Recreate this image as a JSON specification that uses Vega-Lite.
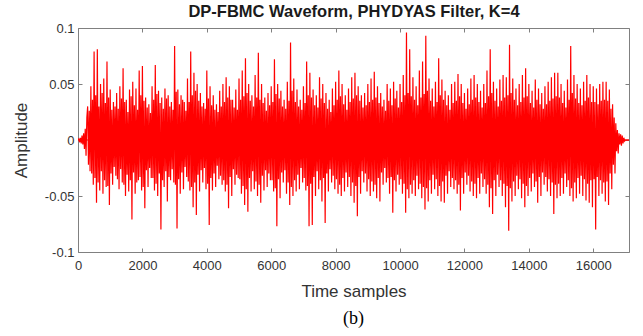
{
"$schema": "https://vega.github.io/schema/vega-lite/v6.json",
"width": 551,
"height": 224,
"autosize": {"type": "none"},
"padding": {"left": 78, "top": 28, "right": 14, "bottom": 84},
"background": "white",
"config": {"view": {"stroke": null}, "font": "Liberation Sans"},
"title": {"text": "(b)", "orient": "bottom", "anchor": "middle", "font": "Liberation Serif", "fontSize": 18, "fontWeight": "normal", "color": "#000000", "offset": 11},
"datasets": {
"wave": [
{"t":0,"a":0},{"t":25,"a":0.001},{"t":50,"a":-0.002},{"t":75,"a":0.002},{"t":100,"a":-0.003},{"t":125,"a":0.004},
{"t":150,"a":-0.004},{"t":175,"a":0.006},{"t":200,"a":-0.008},{"t":225,"a":0.010},{"t":250,"a":-0.014},{"t":275,"a":0.020},
{"t":300,"a":0.030},{"t":325,"a":-0.022},{"t":350,"a":0.026},{"t":375,"a":-0.028},
{"t":400,"a":0.048},{"t":425,"a":-0.030},{"t":450,"a":0.036},{"t":475,"a":-0.040},
{"t":500,"a":0.079},{"t":525,"a":-0.034},{"t":550,"a":0.040},{"t":575,"a":-0.056},
{"t":600,"a":0.081},{"t":625,"a":-0.038},{"t":650,"a":0.030},{"t":675,"a":-0.045},
{"t":700,"a":0.050},{"t":725,"a":-0.028},{"t":750,"a":0.042},{"t":775,"a":-0.048},
{"t":800,"a":0.055},{"t":825,"a":-0.036},{"t":850,"a":0.033},{"t":875,"a":-0.042},
{"t":900,"a":0.070},{"t":925,"a":-0.041},{"t":950,"a":0.038},{"t":975,"a":-0.058},
{"t":1000,"a":0.045},{"t":1025,"a":-0.030},{"t":1050,"a":0.027},{"t":1075,"a":-0.040},
{"t":1100,"a":0.034},{"t":1125,"a":-0.024},{"t":1150,"a":0.030},{"t":1175,"a":-0.032},
{"t":1200,"a":0.042},{"t":1225,"a":-0.035},{"t":1250,"a":0.028},{"t":1275,"a":-0.044},
{"t":1300,"a":0.048},{"t":1325,"a":-0.026},{"t":1350,"a":0.037},{"t":1375,"a":-0.038},
{"t":1400,"a":0.064},{"t":1425,"a":-0.040},{"t":1450,"a":0.034},{"t":1475,"a":-0.050},
{"t":1500,"a":0.036},{"t":1525,"a":-0.031},{"t":1550,"a":0.025},{"t":1575,"a":-0.046},
{"t":1600,"a":0.045},{"t":1625,"a":-0.036},{"t":1650,"a":0.039},{"t":1675,"a":-0.071},
{"t":1700,"a":0.052},{"t":1725,"a":-0.029},{"t":1750,"a":0.031},{"t":1775,"a":-0.048},
{"t":1800,"a":0.046},{"t":1825,"a":-0.038},{"t":1850,"a":0.027},{"t":1875,"a":-0.036},
{"t":1900,"a":0.062},{"t":1925,"a":-0.033},{"t":1950,"a":0.040},{"t":1975,"a":-0.045},
{"t":2000,"a":0.066},{"t":2025,"a":-0.042},{"t":2050,"a":0.035},{"t":2075,"a":-0.061},
{"t":2100,"a":0.038},{"t":2125,"a":-0.027},{"t":2150,"a":0.029},{"t":2175,"a":-0.042},
{"t":2200,"a":0.032},{"t":2225,"a":-0.025},{"t":2250,"a":0.024},{"t":2275,"a":-0.034},
{"t":2300,"a":0.048},{"t":2325,"a":-0.034},{"t":2350,"a":0.036},{"t":2375,"a":-0.045},
{"t":2400,"a":0.067},{"t":2425,"a":-0.039},{"t":2450,"a":0.041},{"t":2475,"a":-0.050},
{"t":2500,"a":0.044},{"t":2525,"a":-0.030},{"t":2550,"a":0.033},{"t":2575,"a":-0.080},
{"t":2600,"a":0.038},{"t":2625,"a":-0.036},{"t":2650,"a":0.028},{"t":2675,"a":-0.042},
{"t":2700,"a":0.046},{"t":2725,"a":-0.028},{"t":2750,"a":0.037},{"t":2775,"a":-0.055},
{"t":2800,"a":0.040},{"t":2825,"a":-0.033},{"t":2850,"a":0.030},{"t":2875,"a":-0.036},
{"t":2900,"a":0.034},{"t":2925,"a":-0.026},{"t":2950,"a":0.027},{"t":2975,"a":-0.038},
{"t":3000,"a":0.084},{"t":3025,"a":-0.040},{"t":3050,"a":0.043},{"t":3075,"a":-0.079},
{"t":3100,"a":0.045},{"t":3125,"a":-0.035},{"t":3150,"a":0.032},{"t":3175,"a":-0.048},
{"t":3200,"a":0.040},{"t":3225,"a":-0.029},{"t":3250,"a":0.036},{"t":3275,"a":-0.044},
{"t":3300,"a":0.034},{"t":3325,"a":-0.024},{"t":3350,"a":0.026},{"t":3375,"a":-0.033},
{"t":3400,"a":0.055},{"t":3425,"a":-0.037},{"t":3450,"a":0.034},{"t":3475,"a":-0.045},
{"t":3500,"a":0.079},{"t":3525,"a":-0.042},{"t":3550,"a":0.040},{"t":3575,"a":-0.060},
{"t":3600,"a":0.060},{"t":3625,"a":-0.038},{"t":3650,"a":0.044},{"t":3675,"a":-0.067},
{"t":3700,"a":0.050},{"t":3725,"a":-0.031},{"t":3750,"a":0.035},{"t":3775,"a":-0.046},
{"t":3800,"a":0.042},{"t":3825,"a":-0.027},{"t":3850,"a":0.030},{"t":3875,"a":-0.038},
{"t":3900,"a":0.033},{"t":3925,"a":-0.025},{"t":3950,"a":0.028},{"t":3975,"a":-0.044},
{"t":4000,"a":0.062},{"t":4025,"a":-0.039},{"t":4050,"a":0.037},{"t":4075,"a":-0.076},
{"t":4100,"a":0.048},{"t":4125,"a":-0.034},{"t":4150,"a":0.031},{"t":4175,"a":-0.045},
{"t":4200,"a":0.040},{"t":4225,"a":-0.030},{"t":4250,"a":0.027},{"t":4275,"a":-0.042},
{"t":4300,"a":0.032},{"t":4325,"a":-0.023},{"t":4350,"a":0.025},{"t":4375,"a":-0.035},
{"t":4400,"a":0.044},{"t":4425,"a":-0.032},{"t":4450,"a":0.030},{"t":4475,"a":-0.040},
{"t":4500,"a":0.050},{"t":4525,"a":-0.036},{"t":4550,"a":0.034},{"t":4575,"a":-0.046},
{"t":4600,"a":0.056},{"t":4625,"a":-0.040},{"t":4650,"a":0.038},{"t":4675,"a":-0.061},
{"t":4700,"a":0.048},{"t":4725,"a":-0.033},{"t":4750,"a":0.036},{"t":4775,"a":-0.050},
{"t":4800,"a":0.036},{"t":4825,"a":-0.026},{"t":4850,"a":0.029},{"t":4875,"a":-0.040},
{"t":4900,"a":0.045},{"t":4925,"a":-0.031},{"t":4950,"a":0.027},{"t":4975,"a":-0.034},
{"t":5000,"a":0.055},{"t":5025,"a":-0.035},{"t":5050,"a":0.036},{"t":5075,"a":-0.048},
{"t":5100,"a":0.062},{"t":5125,"a":-0.041},{"t":5150,"a":0.039},{"t":5175,"a":-0.058},
{"t":5200,"a":0.073},{"t":5225,"a":-0.044},{"t":5250,"a":0.042},{"t":5275,"a":-0.064},
{"t":5300,"a":0.050},{"t":5325,"a":-0.034},{"t":5350,"a":0.035},{"t":5375,"a":-0.046},
{"t":5400,"a":0.040},{"t":5425,"a":-0.028},{"t":5450,"a":0.030},{"t":5475,"a":-0.044},
{"t":5500,"a":0.058},{"t":5525,"a":-0.037},{"t":5550,"a":0.038},{"t":5575,"a":-0.050},
{"t":5600,"a":0.078},{"t":5625,"a":-0.040},{"t":5650,"a":0.036},{"t":5675,"a":-0.056},
{"t":5700,"a":0.050},{"t":5725,"a":-0.032},{"t":5750,"a":0.033},{"t":5775,"a":-0.045},
{"t":5800,"a":0.038},{"t":5825,"a":-0.027},{"t":5850,"a":0.026},{"t":5875,"a":-0.042},
{"t":5900,"a":0.042},{"t":5925,"a":-0.030},{"t":5950,"a":0.031},{"t":5975,"a":-0.036},
{"t":6000,"a":0.048},{"t":6025,"a":-0.036},{"t":6050,"a":0.034},{"t":6075,"a":-0.046},
{"t":6100,"a":0.072},{"t":6125,"a":-0.043},{"t":6150,"a":0.041},{"t":6175,"a":-0.077},
{"t":6200,"a":0.050},{"t":6225,"a":-0.035},{"t":6250,"a":0.037},{"t":6275,"a":-0.052},
{"t":6300,"a":0.044},{"t":6325,"a":-0.029},{"t":6350,"a":0.030},{"t":6375,"a":-0.038},
{"t":6400,"a":0.036},{"t":6425,"a":-0.027},{"t":6450,"a":0.028},{"t":6475,"a":-0.048},
{"t":6500,"a":0.052},{"t":6525,"a":-0.038},{"t":6550,"a":0.035},{"t":6575,"a":-0.058},
{"t":6600,"a":0.087},{"t":6625,"a":-0.042},{"t":6650,"a":0.044},{"t":6675,"a":-0.050},
{"t":6700,"a":0.055},{"t":6725,"a":-0.036},{"t":6750,"a":0.034},{"t":6775,"a":-0.046},
{"t":6800,"a":0.045},{"t":6825,"a":-0.031},{"t":6850,"a":0.030},{"t":6875,"a":-0.044},
{"t":6900,"a":0.036},{"t":6925,"a":-0.025},{"t":6950,"a":0.027},{"t":6975,"a":-0.038},
{"t":7000,"a":0.048},{"t":7025,"a":-0.034},{"t":7050,"a":0.033},{"t":7075,"a":-0.045},
{"t":7100,"a":0.070},{"t":7125,"a":-0.041},{"t":7150,"a":0.040},{"t":7175,"a":-0.077},
{"t":7200,"a":0.060},{"t":7225,"a":-0.039},{"t":7250,"a":0.038},{"t":7275,"a":-0.076},
{"t":7300,"a":0.045},{"t":7325,"a":-0.033},{"t":7350,"a":0.031},{"t":7375,"a":-0.050},
{"t":7400,"a":0.040},{"t":7425,"a":-0.028},{"t":7450,"a":0.029},{"t":7475,"a":-0.044},
{"t":7500,"a":0.056},{"t":7525,"a":-0.036},{"t":7550,"a":0.037},{"t":7575,"a":-0.055},
{"t":7600,"a":0.050},{"t":7625,"a":-0.034},{"t":7650,"a":0.033},{"t":7675,"a":-0.074},
{"t":7700,"a":0.042},{"t":7725,"a":-0.030},{"t":7750,"a":0.028},{"t":7775,"a":-0.046},
{"t":7800,"a":0.036},{"t":7825,"a":-0.026},{"t":7850,"a":0.025},{"t":7875,"a":-0.038},
{"t":7900,"a":0.046},{"t":7925,"a":-0.032},{"t":7950,"a":0.031},{"t":7975,"a":-0.044},
{"t":8000,"a":0.052},{"t":8025,"a":-0.035},{"t":8050,"a":0.036},{"t":8075,"a":-0.048},
{"t":8100,"a":0.062},{"t":8125,"a":-0.040},{"t":8150,"a":0.039},{"t":8175,"a":-0.050},
{"t":8200,"a":0.050},{"t":8225,"a":-0.034},{"t":8250,"a":0.032},{"t":8275,"a":-0.046},
{"t":8300,"a":0.040},{"t":8325,"a":-0.029},{"t":8350,"a":0.027},{"t":8375,"a":-0.042},
{"t":8400,"a":0.046},{"t":8425,"a":-0.033},{"t":8450,"a":0.034},{"t":8475,"a":-0.050},
{"t":8500,"a":0.056},{"t":8525,"a":-0.038},{"t":8550,"a":0.037},{"t":8575,"a":-0.056},
{"t":8600,"a":0.060},{"t":8625,"a":-0.041},{"t":8650,"a":0.040},{"t":8675,"a":-0.068},
{"t":8700,"a":0.048},{"t":8725,"a":-0.033},{"t":8750,"a":0.035},{"t":8775,"a":-0.048},
{"t":8800,"a":0.040},{"t":8825,"a":-0.028},{"t":8850,"a":0.029},{"t":8875,"a":-0.038},
{"t":8900,"a":0.042},{"t":8925,"a":-0.030},{"t":8950,"a":0.031},{"t":8975,"a":-0.046},
{"t":9000,"a":0.050},{"t":9025,"a":-0.035},{"t":9050,"a":0.034},{"t":9075,"a":-0.050},
{"t":9100,"a":0.055},{"t":9125,"a":-0.037},{"t":9150,"a":0.036},{"t":9175,"a":-0.046},
{"t":9200,"a":0.061},{"t":9225,"a":-0.040},{"t":9250,"a":0.038},{"t":9275,"a":-0.052},
{"t":9300,"a":0.048},{"t":9325,"a":-0.034},{"t":9350,"a":0.033},{"t":9375,"a":-0.055},
{"t":9400,"a":0.042},{"t":9425,"a":-0.029},{"t":9450,"a":0.030},{"t":9475,"a":-0.040},
{"t":9500,"a":0.036},{"t":9525,"a":-0.025},{"t":9550,"a":0.026},{"t":9575,"a":-0.038},
{"t":9600,"a":0.050},{"t":9625,"a":-0.034},{"t":9650,"a":0.035},{"t":9675,"a":-0.048},
{"t":9700,"a":0.046},{"t":9725,"a":-0.033},{"t":9750,"a":0.031},{"t":9775,"a":-0.065},
{"t":9800,"a":0.052},{"t":9825,"a":-0.036},{"t":9850,"a":0.037},{"t":9875,"a":-0.046},
{"t":9900,"a":0.044},{"t":9925,"a":-0.031},{"t":9950,"a":0.029},{"t":9975,"a":-0.040},
{"t":10000,"a":0.050},{"t":10025,"a":-0.035},{"t":10050,"a":0.034},{"t":10075,"a":-0.048},
{"t":10100,"a":0.058},{"t":10125,"a":-0.039},{"t":10150,"a":0.040},{"t":10175,"a":-0.065},
{"t":10200,"a":0.096},{"t":10225,"a":-0.044},{"t":10250,"a":0.042},{"t":10275,"a":-0.052},
{"t":10300,"a":0.081},{"t":10325,"a":-0.040},{"t":10350,"a":0.039},{"t":10375,"a":-0.048},
{"t":10400,"a":0.056},{"t":10425,"a":-0.036},{"t":10450,"a":0.036},{"t":10475,"a":-0.050},
{"t":10500,"a":0.048},{"t":10525,"a":-0.032},{"t":10550,"a":0.031},{"t":10575,"a":-0.044},
{"t":10600,"a":0.062},{"t":10625,"a":-0.039},{"t":10650,"a":0.038},{"t":10675,"a":-0.052},
{"t":10700,"a":0.070},{"t":10725,"a":-0.042},{"t":10750,"a":0.041},{"t":10775,"a":-0.062},
{"t":10800,"a":0.093},{"t":10825,"a":-0.043},{"t":10850,"a":0.044},{"t":10875,"a":-0.055},
{"t":10900,"a":0.055},{"t":10925,"a":-0.036},{"t":10950,"a":0.035},{"t":10975,"a":-0.048},
{"t":11000,"a":0.046},{"t":11025,"a":-0.031},{"t":11050,"a":0.030},{"t":11075,"a":-0.044},
{"t":11100,"a":0.052},{"t":11125,"a":-0.035},{"t":11150,"a":0.034},{"t":11175,"a":-0.050},
{"t":11200,"a":0.073},{"t":11225,"a":-0.041},{"t":11250,"a":0.040},{"t":11275,"a":-0.055},
{"t":11300,"a":0.054},{"t":11325,"a":-0.037},{"t":11350,"a":0.036},{"t":11375,"a":-0.056},
{"t":11400,"a":0.044},{"t":11425,"a":-0.032},{"t":11450,"a":0.031},{"t":11475,"a":-0.048},
{"t":11500,"a":0.040},{"t":11525,"a":-0.028},{"t":11550,"a":0.027},{"t":11575,"a":-0.042},
{"t":11600,"a":0.050},{"t":11625,"a":-0.034},{"t":11650,"a":0.033},{"t":11675,"a":-0.044},
{"t":11700,"a":0.052},{"t":11725,"a":-0.036},{"t":11750,"a":0.035},{"t":11775,"a":-0.048},
{"t":11800,"a":0.059},{"t":11825,"a":-0.040},{"t":11850,"a":0.039},{"t":11875,"a":-0.063},
{"t":11900,"a":0.050},{"t":11925,"a":-0.034},{"t":11950,"a":0.033},{"t":11975,"a":-0.048},
{"t":12000,"a":0.042},{"t":12025,"a":-0.029},{"t":12050,"a":0.028},{"t":12075,"a":-0.040},
{"t":12100,"a":0.046},{"t":12125,"a":-0.032},{"t":12150,"a":0.032},{"t":12175,"a":-0.046},
{"t":12200,"a":0.055},{"t":12225,"a":-0.037},{"t":12250,"a":0.036},{"t":12275,"a":-0.050},
{"t":12300,"a":0.058},{"t":12325,"a":-0.039},{"t":12350,"a":0.038},{"t":12375,"a":-0.052},
{"t":12400,"a":0.050},{"t":12425,"a":-0.034},{"t":12450,"a":0.034},{"t":12475,"a":-0.048},
{"t":12500,"a":0.044},{"t":12525,"a":-0.030},{"t":12550,"a":0.029},{"t":12575,"a":-0.042},
{"t":12600,"a":0.050},{"t":12625,"a":-0.035},{"t":12650,"a":0.033},{"t":12675,"a":-0.048},
{"t":12700,"a":0.062},{"t":12725,"a":-0.040},{"t":12750,"a":0.039},{"t":12775,"a":-0.060},
{"t":12800,"a":0.081},{"t":12825,"a":-0.043},{"t":12850,"a":0.042},{"t":12875,"a":-0.066},
{"t":12900,"a":0.052},{"t":12925,"a":-0.036},{"t":12950,"a":0.035},{"t":12975,"a":-0.050},
{"t":13000,"a":0.046},{"t":13025,"a":-0.031},{"t":13050,"a":0.030},{"t":13075,"a":-0.042},
{"t":13100,"a":0.054},{"t":13125,"a":-0.036},{"t":13150,"a":0.035},{"t":13175,"a":-0.050},
{"t":13200,"a":0.058},{"t":13225,"a":-0.039},{"t":13250,"a":0.038},{"t":13275,"a":-0.060},
{"t":13300,"a":0.056},{"t":13325,"a":-0.041},{"t":13350,"a":0.040},{"t":13375,"a":-0.081},
{"t":13400,"a":0.085},{"t":13425,"a":-0.043},{"t":13450,"a":0.042},{"t":13475,"a":-0.055},
{"t":13500,"a":0.055},{"t":13525,"a":-0.037},{"t":13550,"a":0.036},{"t":13575,"a":-0.050},
{"t":13600,"a":0.046},{"t":13625,"a":-0.032},{"t":13650,"a":0.031},{"t":13675,"a":-0.044},
{"t":13700,"a":0.050},{"t":13725,"a":-0.035},{"t":13750,"a":0.034},{"t":13775,"a":-0.052},
{"t":13800,"a":0.058},{"t":13825,"a":-0.039},{"t":13850,"a":0.038},{"t":13875,"a":-0.060},
{"t":13900,"a":0.064},{"t":13925,"a":-0.041},{"t":13950,"a":0.039},{"t":13975,"a":-0.050},
{"t":14000,"a":0.050},{"t":14025,"a":-0.034},{"t":14050,"a":0.033},{"t":14075,"a":-0.046},
{"t":14100,"a":0.044},{"t":14125,"a":-0.030},{"t":14150,"a":0.029},{"t":14175,"a":-0.042},
{"t":14200,"a":0.054},{"t":14225,"a":-0.037},{"t":14250,"a":0.036},{"t":14275,"a":-0.056},
{"t":14300,"a":0.046},{"t":14325,"a":-0.033},{"t":14350,"a":0.032},{"t":14375,"a":-0.050},
{"t":14400,"a":0.042},{"t":14425,"a":-0.029},{"t":14450,"a":0.028},{"t":14475,"a":-0.040},
{"t":14500,"a":0.048},{"t":14525,"a":-0.033},{"t":14550,"a":0.032},{"t":14575,"a":-0.046},
{"t":14600,"a":0.052},{"t":14625,"a":-0.035},{"t":14650,"a":0.035},{"t":14675,"a":-0.050},
{"t":14700,"a":0.056},{"t":14725,"a":-0.038},{"t":14750,"a":0.037},{"t":14775,"a":-0.066},
{"t":14800,"a":0.060},{"t":14825,"a":-0.040},{"t":14850,"a":0.039},{"t":14875,"a":-0.052},
{"t":14900,"a":0.060},{"t":14925,"a":-0.039},{"t":14950,"a":0.038},{"t":14975,"a":-0.050},
{"t":15000,"a":0.050},{"t":15025,"a":-0.034},{"t":15050,"a":0.033},{"t":15075,"a":-0.048},
{"t":15100,"a":0.044},{"t":15125,"a":-0.030},{"t":15150,"a":0.029},{"t":15175,"a":-0.042},
{"t":15200,"a":0.054},{"t":15225,"a":-0.036},{"t":15250,"a":0.036},{"t":15275,"a":-0.050},
{"t":15300,"a":0.084},{"t":15325,"a":-0.043},{"t":15350,"a":0.042},{"t":15375,"a":-0.055},
{"t":15400,"a":0.058},{"t":15425,"a":-0.038},{"t":15450,"a":0.037},{"t":15475,"a":-0.052},
{"t":15500,"a":0.050},{"t":15525,"a":-0.034},{"t":15550,"a":0.033},{"t":15575,"a":-0.048},
{"t":15600,"a":0.046},{"t":15625,"a":-0.032},{"t":15650,"a":0.031},{"t":15675,"a":-0.050},
{"t":15700,"a":0.052},{"t":15725,"a":-0.035},{"t":15750,"a":0.035},{"t":15775,"a":-0.054},
{"t":15800,"a":0.058},{"t":15825,"a":-0.039},{"t":15850,"a":0.038},{"t":15875,"a":-0.056},
{"t":15900,"a":0.050},{"t":15925,"a":-0.036},{"t":15950,"a":0.034},{"t":15975,"a":-0.060},
{"t":16000,"a":0.048},{"t":16025,"a":-0.035},{"t":16050,"a":0.034},{"t":16075,"a":-0.080},
{"t":16100,"a":0.046},{"t":16125,"a":-0.033},{"t":16150,"a":0.032},{"t":16175,"a":-0.050},
{"t":16200,"a":0.050},{"t":16225,"a":-0.036},{"t":16250,"a":0.035},{"t":16275,"a":-0.048},
{"t":16300,"a":0.052},{"t":16325,"a":-0.038},{"t":16350,"a":0.036},{"t":16375,"a":-0.055},
{"t":16400,"a":0.052},{"t":16425,"a":-0.037},{"t":16450,"a":0.035},{"t":16475,"a":-0.058},
{"t":16500,"a":0.045},{"t":16525,"a":-0.030},{"t":16550,"a":0.028},{"t":16575,"a":-0.044},
{"t":16600,"a":0.032},{"t":16625,"a":-0.022},{"t":16650,"a":0.020},{"t":16675,"a":-0.030},
{"t":16700,"a":0.015},{"t":16725,"a":-0.010},{"t":16750,"a":0.009},{"t":16775,"a":-0.012},
{"t":16800,"a":0.006},{"t":16825,"a":-0.004},{"t":16850,"a":0.005},{"t":16875,"a":-0.005},
{"t":16900,"a":0.004},{"t":16925,"a":-0.003},{"t":16950,"a":0.002},{"t":16975,"a":-0.001},
{"t":17000,"a":0},{"t":17110,"a":0}
],
"zero": [{"t":0,"a":0},{"t":17110,"a":0}]
},
"layer": [
{
"data": {"name": "wave"},
"mark": {"type": "line", "color": "#ff0000", "strokeWidth": 1.2, "clip": true},
"encoding": {
"x": {"field": "t", "type": "quantitative", "scale": {"domain": [0, 17110], "nice": false, "zero": false},
 "axis": {"values": [0,2000,4000,6000,8000,10000,12000,14000,16000], "format": "d", "title": "Time samples", "grid": false,
 "tickSize": -4, "domainColor": "#808080", "tickColor": "#808080", "labelColor": "#333333", "labelFontSize": 13, "labelPadding": 11,
 "titleFontSize": 17, "titleFontWeight": "normal", "titleColor": "#333333", "titlePadding": 11, "labelFlush": false}},
"y": {"field": "a", "type": "quantitative", "scale": {"domain": [-0.1, 0.1], "nice": false, "zero": false},
 "axis": {"values": [-0.1,-0.05,0,0.05,0.1], "title": "Amplitude", "grid": false,
 "labelExpr": "datum.value == 0 ? '0' : (datum.value < 0 ? '-' : '') + format(abs(datum.value), '~g')",
 "tickSize": -4, "domainColor": "#808080", "tickColor": "#808080", "labelColor": "#333333", "labelFontSize": 13, "labelPadding": 8,
 "titleFontSize": 17, "titleFontWeight": "normal", "titleColor": "#333333", "titlePadding": 14}}
}
},
{
"data": {"name": "zero"},
"mark": {"type": "line", "color": "#ff0000", "strokeWidth": 1},
"encoding": {
"x": {"field": "t", "type": "quantitative",
 "axis": {"orient": "top", "values": [0,2000,4000,6000,8000,10000,12000,14000,16000], "labels": false, "grid": false,
 "tickSize": -4, "domainColor": "#808080", "tickColor": "#808080",
 "title": "DP-FBMC Waveform, PHYDYAS Filter, K=4", "titleFontSize": 16.5, "titleFontWeight": "bold", "titleColor": "#1a1a1a", "titlePadding": 8}},
"y": {"field": "a", "type": "quantitative",
 "axis": {"orient": "right", "values": [-0.1,-0.05,0,0.05,0.1], "labels": false, "grid": false, "title": null,
 "tickSize": -4, "domainColor": "#808080", "tickColor": "#808080"}}
}
}
],
"resolve": {"axis": {"x": "independent", "y": "independent"}}
}
